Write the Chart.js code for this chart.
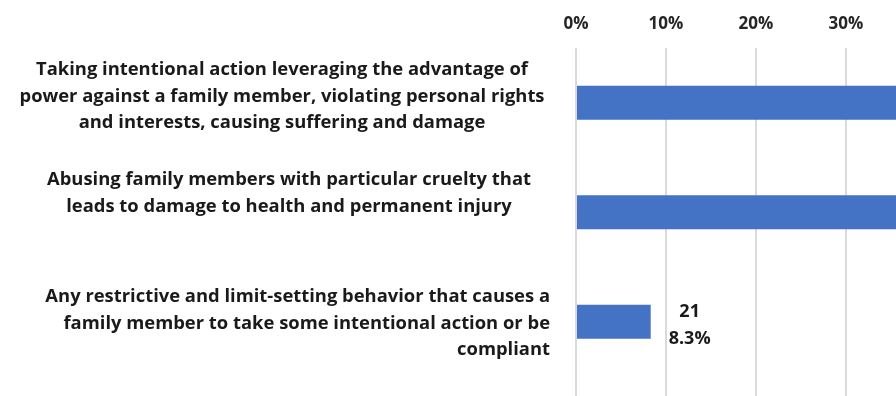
<!DOCTYPE html>
<html>
<head>
<meta charset="utf-8">
<script src="https://cdn.jsdelivr.net/npm/chart.js@4.4.1/dist/chart.umd.min.js"></script>
<style>
  html, body { margin: 0; padding: 0; background: #ffffff; overflow: hidden; width: 896px; height: 396px; }
  #wrap { position: relative; width: 1156px; height: 396px; }
</style>
</head>
<body>
<div id="wrap"><canvas id="chart"></canvas></div>
<script>
// ---- data (the image is cropped on the right; the two long bars run off the picture) ----
const categories = [
  ["Taking intentional action leveraging the advantage of",
   "power against a family member, violating personal rights",
   "and interests, causing suffering and damage"],
  ["Abusing family members with particular cruelty that",
   "leads to damage to health and permanent injury"],
  ["Any restrictive and limit-setting behavior that causes a",
   "family member to take some intentional action or be",
   "compliant"]
];
const counts = [120, 112, 21];
const percents = [47.4, 44.3, 8.3];
const xTickValues = [0, 10, 20, 30, 40, 50, 60];

const FONT = "'Open Sans', Lato, sans-serif";
const TEXT = "#1a1a1a";

// category labels drawn beside the y scale
const yLabelPlugin = {
  id: 'yLabels',
  afterDraw(chart, args, opts) {
    const ctx = chart.ctx;
    const ys = chart.scales.y;
    const left = chart.chartArea.left;
    ctx.save();
    ctx.fillStyle = TEXT;
    ctx.font = "bold 18.4px " + FONT;
    ctx.textBaseline = 'middle';
    categories.forEach((lines, i) => {
      const cfg = opts.layout[i];
      const cy = ys.getPixelForValue(i) + cfg.dy;
      const x = left - cfg.dx;
      ctx.textAlign = cfg.align;
      const top = cy - (lines.length - 1) * opts.lineHeight / 2;
      lines.forEach((ln, j) => ctx.fillText(ln, x, top + j * opts.lineHeight));
    });
    ctx.restore();
  }
};

// value labels (count + percent) to the right of each bar
const valueLabelPlugin = {
  id: 'valueLabels',
  afterDatasetsDraw(chart) {
    const ctx = chart.ctx;
    const meta = chart.getDatasetMeta(0);
    ctx.save();
    ctx.fillStyle = TEXT;
    ctx.font = "bold 18px " + FONT;
    ctx.textAlign = 'center';
    ctx.textBaseline = 'middle';
    meta.data.forEach((bar, i) => {
      const l1 = String(counts[i]);
      const l2 = percents[i].toFixed(1) + '%';
      const w = Math.max(ctx.measureText(l1).width, ctx.measureText(l2).width);
      const cx = bar.x + 18 + w / 2;
      ctx.fillText(l1, cx, bar.y - 10);
      ctx.fillText(l2, cx, bar.y + 17);
    });
    ctx.restore();
  }
};

new Chart(document.getElementById('chart'), {
  type: 'bar',
  data: {
    labels: categories.map(l => l.join(' ')),
    datasets: [{
      data: percents,
      backgroundColor: '#4472C4',
      borderWidth: 0,
      barPercentage: 0.31,
      categoryPercentage: 1
    }]
  },
  options: {
    indexAxis: 'y',
    responsive: true,
    maintainAspectRatio: false,
    animation: false,
    layout: { padding: { left: 0, right: 40, top: 0, bottom: 0 } },
    plugins: {
      legend: { display: false },
      tooltip: { enabled: false },
      yLabels: {
        lineHeight: 26.5,
        layout: [
          { align: 'center', dx: 294, dy: -6 },
          { align: 'center', dx: 287, dy: -19 },
          { align: 'right', dx: 26, dy: 2 }
        ]
      }
    },
    scales: {
      x: {
        position: 'top',
        min: 0,
        max: 60,
        afterBuildTicks: s => { s.ticks = xTickValues.map(v => ({ value: v })); },
        ticks: {
          callback: v => v + '%',
          font: { family: FONT, size: 17, weight: 'bold' },
          color: '#262626',
          padding: 14
        },
        grid: { color: '#dadada', lineWidth: 2, drawTicks: false },
        border: { display: false },
        afterFit: s => { s.height = 48; }
      },
      y: {
        ticks: { display: false },
        grid: { display: false },
        border: { display: false },
        // the plot area runs a little below the last category band
        afterBuildTicks: s => { s._valueRange = s._valueRange + 0.178; },
        afterFit: s => { s.width = 576; }
      }
    }
  },
  plugins: [yLabelPlugin, valueLabelPlugin]
});
</script>
</body>
</html>
